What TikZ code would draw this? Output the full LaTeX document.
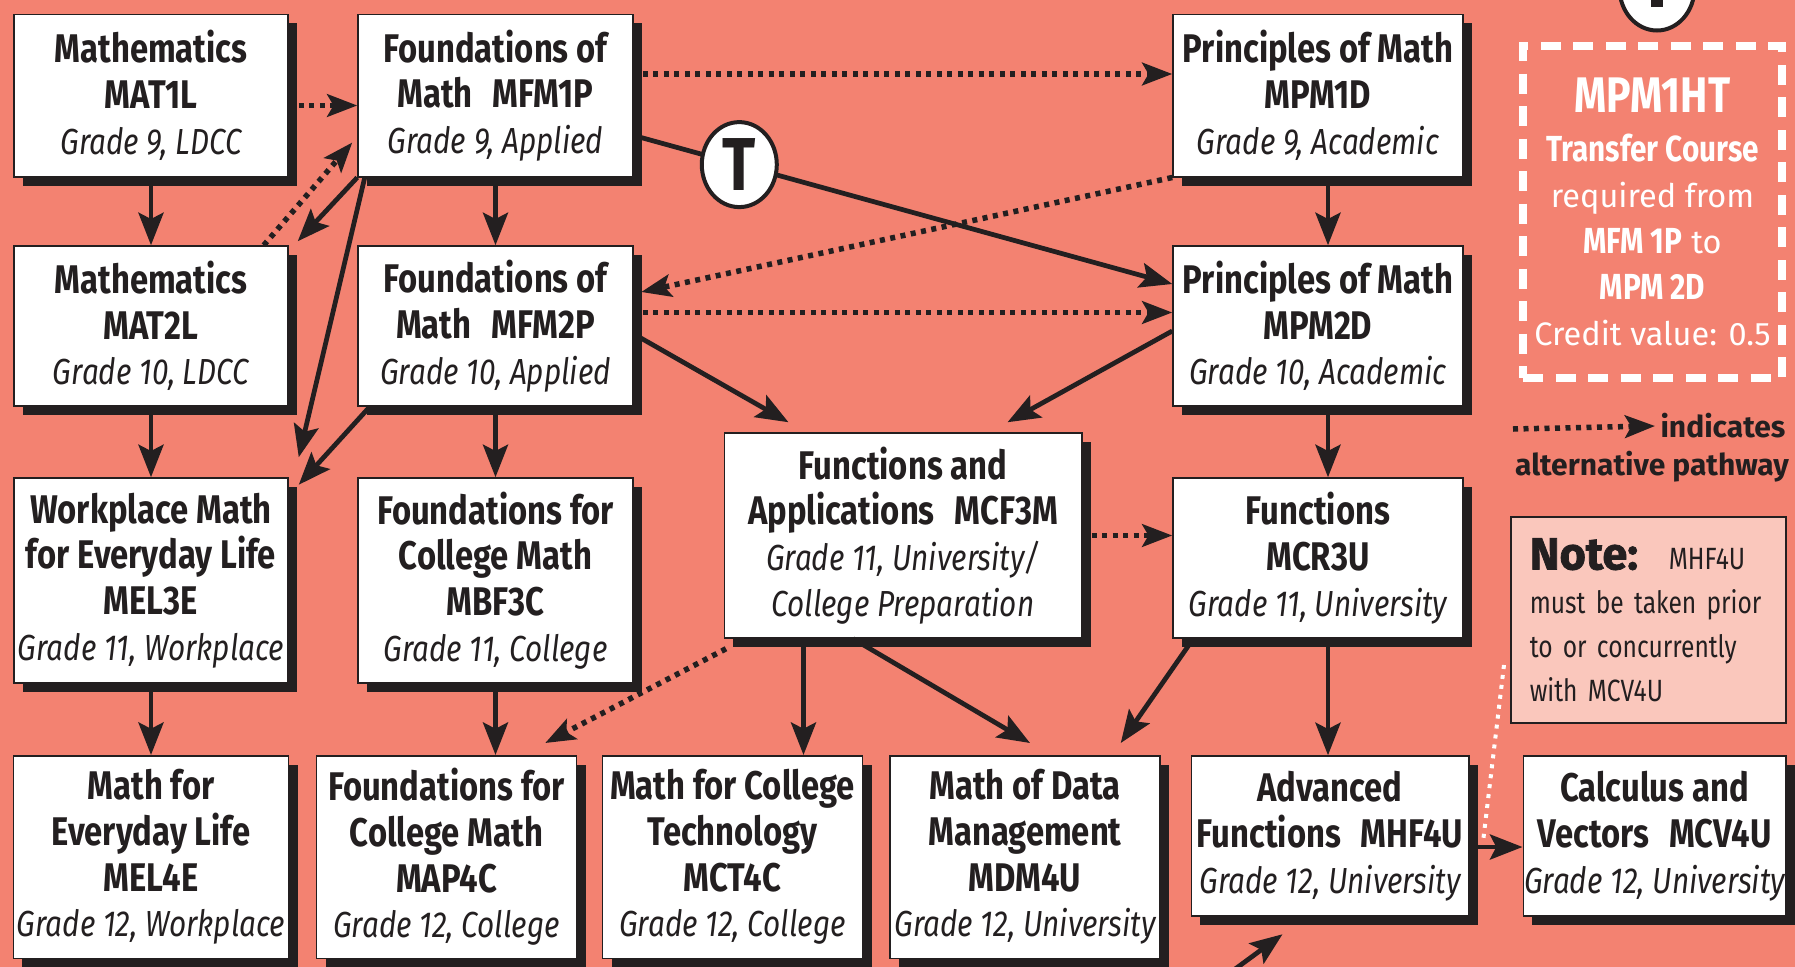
\documentclass[tikz,border=0pt]{standalone}
\usepackage{fontspec}
\setmainfont{Fira Sans}
\newfontfamily\boxfont{Fira Sans}[FakeStretch=0.82]
\newfontfamily\notefont{Fira Sans}[FakeStretch=0.8]
\newfontfamily\heavyfont{Fira Sans}[FakeBold=1.6]
\usetikzlibrary{arrows.meta,shadows,shapes.geometric}

\definecolor{salmon}{RGB}{243,130,113}
\definecolor{notepink}{RGB}{250,199,188}
\definecolor{ink}{RGB}{35,31,32}

\newcommand{\grade}{\mdseries\itshape\fontsize{14.5}{18.3}\selectfont}

\tikzset{
	course/.style={draw=ink, line width=0.6pt, fill=white, text=ink, align=center, inner sep=0pt,
		font=\boxfont\bfseries\fontsize{16}{18.3}\selectfont,
		drop shadow={shadow xshift=3.6pt, shadow yshift=-3.6pt, fill=ink, opacity=1}},
	req/.style={draw=ink, line width=1.9pt, -{Stealth[length=13pt,width=10pt,inset=2.5pt]}},
	alt/.style={draw=ink, line width=2.2pt, dash pattern=on 2pt off 2.2pt, -{Stealth[length=12pt,width=9pt,inset=2.5pt]}},
	tmark/.style={draw=ink, line width=1.6pt, fill=white, ellipse, minimum width=30pt, minimum height=34pt,
		inner sep=0pt, text=ink, font=\boxfont\bfseries\fontsize{30}{30}\selectfont}
}

\begin{document}
\begin{tikzpicture}[x=0.4pt, y=-0.4pt]
	\useasboundingbox (0,0) rectangle (1795,967);
	\clip (0,0) rectangle (1795,967);
	\fill[salmon] (0,0) rectangle (1795,967);

	% grade 9
	\node[course, minimum width=109.6pt, minimum height=65pt] (mat1l) at (151,95.5) {Mathematics\\MAT1L\\{\grade Grade 9, LDCC}};
	\node[course, minimum width=110pt, minimum height=65pt] (mfm1p) at (495.5,95.5) {Foundations of\\Math\enspace MFM1P\\{\grade Grade 9, Applied}};
	\node[course, minimum width=116pt, minimum height=65pt] (mpm1d) at (1318,95.5) {Principles of Math\\MPM1D\\{\grade Grade 9, Academic}};

	% grade 10
	\node[course, minimum width=109.6pt, minimum height=64pt] (mat2l) at (151,326) {Mathematics\\MAT2L\\{\grade Grade 10, LDCC}};
	\node[course, minimum width=110pt, minimum height=64pt] (mfm2p) at (495.5,326) {Foundations of\\Math\enspace MFM2P\\{\grade Grade 10, Applied}};
	\node[course, minimum width=116pt, minimum height=64pt] (mpm2d) at (1318,326) {Principles of Math\\MPM2D\\{\grade Grade 10, Academic}};

	% grade 11
	\node[course, minimum width=109.6pt, minimum height=82pt] (mel3e) at (151,580.5) {Workplace Math\\for Everyday Life\\MEL3E\\{\grade Grade 11, Workplace}};
	\node[course, minimum width=110pt, minimum height=82pt] (mbf3c) at (495.5,580.5) {Foundations for\\College Math\\MBF3C\\{\grade Grade 11, College}};
	\node[course, minimum width=143pt, minimum height=82pt] (mcf3m) at (903,535.5) {Functions and\\Applications\enspace MCF3M\\{\grade Grade 11, University/}\\{\grade College Preparation}};
	\node[course, minimum width=116pt, minimum height=64pt] (mcr3u) at (1318,558) {Functions\\MCR3U\\{\grade Grade 11, University}};

	% grade 12
	\node[course, minimum width=110pt, minimum height=81pt] (mel4e) at (151,857) {Math for\\Everyday Life\\MEL4E\\{\grade Grade 12, Workplace}};
	\node[course, minimum width=104pt, minimum height=81pt] (map4c) at (446.5,857) {Foundations for\\College Math\\MAP4C\\{\grade Grade 12, College}};
	\node[course, minimum width=104pt, minimum height=81pt] (mct4c) at (732.5,857) {Math for College\\Technology\\MCT4C\\{\grade Grade 12, College}};
	\node[course, minimum width=108pt, minimum height=81pt] (mdm4u) at (1025,857) {Math of Data\\Management\\MDM4U\\{\grade Grade 12, University}};
	\node[course, minimum width=111pt, minimum height=64pt] (mhf4u) at (1330,836) {Advanced\\Functions\enspace MHF4U\\{\grade Grade 12, University}};
	\node[course, minimum width=105pt, minimum height=64pt] (mcv4u) at (1654.5,836) {Calculus and\\Vectors\enspace MCV4U\\{\grade Grade 12, University}};

	% transfer course and legend
	\node[draw=white, line width=3.2pt, dash pattern=on 8pt off 5pt, minimum width=103.6pt, minimum height=132.8pt,
		text=white, align=center, font=\fontsize{13}{18.4}\selectfont] (transfer) at (1652.5,212)
		{{\boxfont\bfseries\fontsize{20}{21}\selectfont MPM1HT}\\[1pt]{\boxfont\bfseries\fontsize{14.5}{18.4}\selectfont Transfer Course}\\required from\\{\boxfont\bfseries\fontsize{14.5}{18.4}\selectfont MFM 1P} to\\{\boxfont\bfseries\fontsize{14.5}{18.4}\selectfont MPM 2D}\\Credit value: 0.5};
	\node[tmark] (tkey) at (1657,-12) {};
	\fill[ink] (1651,-5) rectangle (1663,7);

	\coordinate (legtail) at (1513,429);
	\node[anchor=west, inner sep=0pt, text=ink, font=\bfseries\fontsize{12}{14}\selectfont] (indic) at (1660,426) {indicates};
	\node[inner sep=0pt, text=ink, font=\bfseries\fontsize{12}{14}\selectfont] (altpath) at (1652,467) {alternative pathway};
	\draw[alt] (legtail) -- ([xshift=-2pt]indic.west);

	\node[draw=ink, line width=0.8pt, fill=notepink, minimum width=110pt, minimum height=82.4pt, text width=95pt,
		inner xsep=7.5pt, align=left, text=ink, font=\notefont\fontsize{12.3}{17.6}\selectfont] (note) at (1648.5,620)
		{{\heavyfont\bfseries\fontsize{18}{18.3}\selectfont Note:}\enspace\enspace MHF4U\\must be taken prior\\to or concurrently\\with MCV4U};

	% required pathways
	\draw[req] (mat1l.south) -- (mat2l.north);
	\draw[req] (mfm1p.south) -- (mfm2p.north);
	\draw[req] ([xshift=4pt]mpm1d.south) -- ([xshift=4pt]mpm2d.north);
	\draw[req] (mat2l.south) -- (mel3e.north);
	\draw[req] (mfm2p.south) -- (mbf3c.north);
	\draw[req] ([xshift=4pt]mpm2d.south) -- ([xshift=4pt]mcr3u.north);
	\draw[req] (mel3e.south) -- (mel4e.north);
	\draw[req] (mbf3c.south) -- (mbf3c.south |- map4c.north);
	\draw[req] ([xshift=32pt]mcf3m.south west) -- ([xshift=32pt]mcf3m.south west |- mct4c.north);
	\draw[req] ([xshift=4pt]mcr3u.south) -- ([xshift=4pt]mcr3u.south |- mhf4u.north);

	\draw[req] (mfm1p.south west) -- ([xshift=3.6pt,yshift=1.6pt]mat2l.north east);
	\draw[req] ([xshift=3pt]mfm1p.south west) -- ([xshift=4pt,yshift=8pt]mel3e.north east);
	\draw[req] ([xshift=5pt]mfm2p.south west) -- ([xshift=4pt,yshift=-3pt]mel3e.north east);
	\draw[req] ([yshift=-16pt]mfm1p.east) -- node[tmark, pos=0.196] (tcirc) {T} ([yshift=16.8pt]mpm2d.west);
	\draw[req] ([yshift=-3.2pt]mfm2p.east) -- ([xshift=26pt,yshift=4pt]mcf3m.north west);
	\draw[req] ([yshift=-2pt]mpm2d.west) -- ([xshift=-30pt,yshift=4pt]mcf3m.north east);
	\draw[req] ([xshift=-20pt]mcf3m.south) -- ([xshift=2pt,yshift=4.8pt]mdm4u.north);
	\draw[req] ([xshift=8.4pt]mcr3u.south west) -- ([xshift=-16pt,yshift=4.8pt]mdm4u.north east);
	\draw[req] ([yshift=-4.4pt]mhf4u.east) -- ([yshift=-4.4pt]mhf4u.east -| mcv4u.west);
	\coordinate (offpage) at (1212,986);
	\draw[req] (offpage) -- ([xshift=-19pt,yshift=-7pt]mhf4u.south);

	% alternative pathways
	\draw[alt] ([xshift=4pt,yshift=-4pt]mat1l.east) -- ([yshift=-4pt]mfm1p.west);
	\draw[alt] ([xshift=-10pt]mat2l.north east) -- ([xshift=-2pt,yshift=14pt]mfm1p.south west);
	\draw[alt] ([xshift=3.6pt,yshift=8.6pt]mfm1p.east) -- ([yshift=8.6pt]mfm1p.east -| mpm1d.west);
	\draw[alt] (mpm1d.south west) -- ([xshift=3pt,yshift=13.6pt]mfm2p.east);
	\draw[alt] ([xshift=3.6pt,yshift=5.4pt]mfm2p.east) -- ([yshift=5.4pt]mfm2p.east -| mpm2d.west);
	\draw[alt] ([xshift=3.6pt]mcf3m.east) -- (mcf3m.east -| mcr3u.west);
	\draw[alt] ([xshift=1pt,yshift=-4pt]mcf3m.south west) -- ([xshift=-12.8pt,yshift=4.8pt]map4c.north east);

	% note pointer
	\coordinate (notefoot) at (1483,842);
	\draw[white, line width=1.6pt, dash pattern=on 1.6pt off 2.4pt] ([xshift=-2.4pt,yshift=-18pt]note.west) -- (notefoot);
\end{tikzpicture}
\end{document}
